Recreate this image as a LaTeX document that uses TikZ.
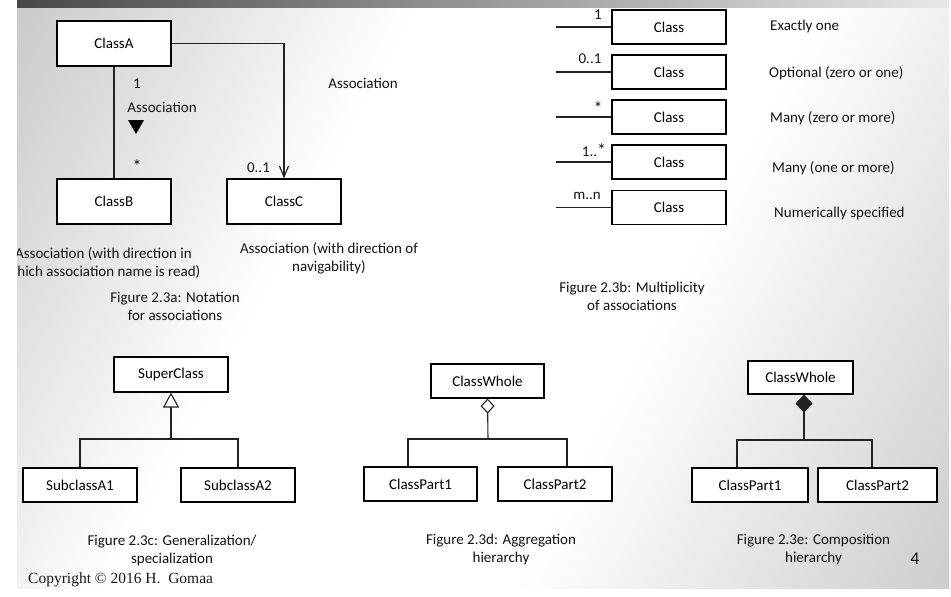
\documentclass[tikz,border=0pt]{standalone}
\usepackage{fontspec}
\setmainfont{Carlito}
\newfontfamily\copyfont{Liberation Serif}
\usetikzlibrary{arrows.meta}
\definecolor{bgedge}{HTML}{C0C0C0}
\definecolor{barleft}{HTML}{484848}
\definecolor{barright}{HTML}{E8E8E8}
\definecolor{ink}{HTML}{222222}
\pgfdeclarehorizontalshading{slidebg}{100bp}{color(0bp)=(bgedge); color(12bp)=(bgedge);
  color(38bp)=(white); color(60bp)=(white); color(90bp)=(bgedge); color(100bp)=(bgedge)}
\begin{document}
\begin{tikzpicture}[x=1pt,y=-1pt,
  cls/.style={draw=black, line width=1.1pt, fill=white, minimum width=114pt,
    minimum height=34pt, inner sep=0pt, font=\fontsize{15}{18}\selectfont},
  txt/.style={inner sep=0pt, font=\fontsize{15}{18}\selectfont, text=black!92},
  star/.style={inner sep=0pt, font=\fontsize{18}{18}\selectfont, text=black!92},
  link/.style={draw=ink, line width=1.1pt}]
\useasboundingbox (0,0) rectangle (951,597);
% slide background and title bar
\fill[white] (0,0) rectangle (951,597);
\shade[shading=slidebg, shading angle=-28] (17,7) rectangle (949,588);
\shade[left color=barleft, right color=barright] (17,0) rectangle (949,7);
\begin{scope}
\clip (17,0) rectangle (949,588);
% ---- associations
\node[cls, minimum height=45pt] (A) at (114,43.5) {ClassA};
\node[cls, minimum height=45pt] (B) at (114,201.5) {ClassB};
\node[cls, minimum height=45pt] (C) at (284,201.5) {ClassC};
\draw[link] (A.south) -- (B.north);
\coordinate (AC) at (284,43.5);
\draw[link, -{Straight Barb[length=11pt,width=9pt]}] (A.east) -- (AC) -- (C.north);
\node[txt] (mA) at (137,84) {1};
\node[txt] (assocA) at (162,107) {Association};
\fill[black] (128,120) -- (144,120) -- (136,134) -- cycle;
\node[star] (mB) at (137,166) {*};
\node[txt] (mC) at (258.5,168) {0..1};
\node[txt] (assocC) at (363,83) {Association};
\node[txt, align=center] (noteB) at (103.5,263) {Association (with direction in\\which association name is read)};
\node[txt, align=center] (noteC) at (329,258) {Association (with direction of\\navigability)};
\node[txt, align=center] (figA) at (175,306.5) {Figure 2.3a: Notation\\for associations};
% ---- multiplicity
\node[cls] (c1) at (669,27) {Class};
\node[cls] (c2) at (669,72) {Class};
\node[cls] (c3) at (669,117) {Class};
\node[cls] (c4) at (669,162) {Class};
\node[cls] (c5) at (669,207.5) {Class};
\coordinate (e1) at (556,27);
\coordinate (e2) at (556,72);
\coordinate (e3) at (556,117);
\coordinate (e4) at (556,162);
\coordinate (e5) at (556,207.5);
\draw[link] (e1) -- (c1.west);
\draw[link] (e2) -- (c2.west);
\draw[link] (e3) -- (c3.west);
\draw[link] (e4) -- (c4.west);
\draw[link] (e5) -- (c5.west);
\node[txt] (k1) at (598,15) {1};
\node[txt] (k2) at (590,59) {0..1};
\node[star] (k3) at (598,108) {*};
\node[txt] (k4) at (594,150) {1..\fontsize{18}{18}\selectfont *};
\node[txt] (k5) at (587,196) {m..n};
\node[txt, anchor=west] (d1) at (770,27) {Exactly one};
\node[txt, anchor=west] (d2) at (769,73) {Optional (zero or one)};
\node[txt, anchor=west] (d3) at (770,118) {Many (zero or more)};
\node[txt, anchor=west] (d4) at (772,168) {Many (one or more)};
\node[txt, anchor=west] (d5) at (774,213) {Numerically specified};
\node[txt, align=center] (figB) at (632,296.5) {Figure 2.3b: Multiplicity\\of associations};
% ---- generalization
\node[cls, minimum height=35pt] (sup) at (171,374.5) {SuperClass};
\node[cls] (s1) at (80,485) {SubclassA1};
\node[cls] (s2) at (238,485) {SubclassA2};
\coordinate (gj) at (171,439);
\draw[link, -{Triangle[open, fill=white, length=15pt, width=16pt]}] (gj) -- (sup.south);
\draw[link] (s1.north) |- (gj) -| (s2.north);
\node[txt, align=center] (figC) at (172,550.5) {Figure 2.3c: Generalization/\\specialization};
% ---- aggregation
\node[cls, minimum width=113pt] (w1) at (487.5,381) {ClassWhole};
\node[cls, minimum width=113pt] (p11) at (420.5,484) {ClassPart1};
\node[cls] (p12) at (555,484) {ClassPart2};
\coordinate (aj) at (488,439);
\coordinate (al) at (408,439);
\coordinate (ar) at (567,439);
\draw[link, -{Diamond[open, fill=white, length=15pt, width=14pt]}] (aj) -- (w1.south);
\draw[link] (al |- p11.north) -- (al) -- (ar) -- (ar |- p12.north);
\node[txt, align=center] (figD) at (501,549.5) {Figure 2.3d: Aggregation\\hierarchy};
% ---- composition
\node[cls, minimum width=105pt, minimum height=33pt] (w2) at (800.5,377.5) {ClassWhole};
\node[cls, minimum width=116pt] (p21) at (750,485) {ClassPart1};
\node[cls, minimum width=119pt] (p22) at (877.5,485) {ClassPart2};
\coordinate (cj) at (804,440);
\coordinate (cl) at (737,440);
\coordinate (cr) at (872,440);
\draw[link, -{Diamond[length=18pt, width=17pt]}] (cj) -- (cj |- w2.south);
\draw[link] (cl |- p21.north) -- (cl) -- (cr) -- (cr |- p22.north);
\node[txt, align=center] (figE) at (813.5,549.5) {Figure 2.3e: Composition\\hierarchy};
\node[txt, font=\fontsize{18}{20}\selectfont] (page) at (915,559) {4};
\node[inner sep=0pt, anchor=west, text=black!90, font=\copyfont\fontsize{15.5}{18}\selectfont] (copy) at (28,580) {Copyright © 2016 H.\ \ Gomaa};
\end{scope}
\end{tikzpicture}
\end{document}
